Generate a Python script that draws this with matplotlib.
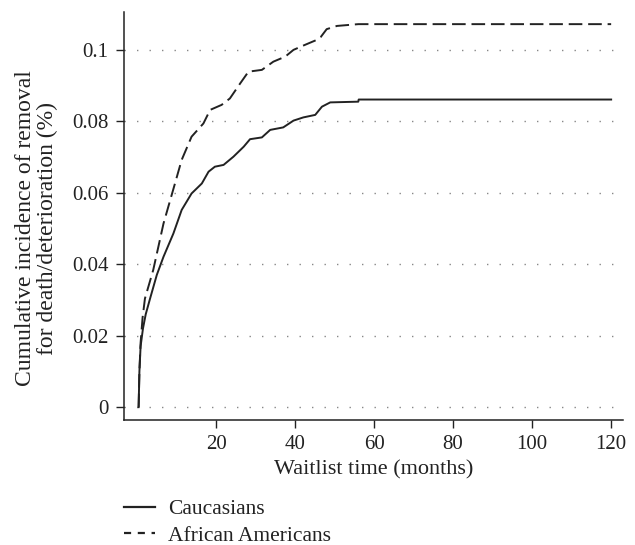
import matplotlib
matplotlib.use('agg')
import matplotlib.pyplot as plt
from matplotlib.lines import Line2D

plt.rcParams['font.family'] = ['Liberation Serif', 'DejaVu Serif']

# months on waitlist vs. cumulative incidence
cauc_months = [0.4, 0.6, 0.9, 1.5, 2.2, 3.3, 5.0, 6.7, 9.2, 11.3, 13.8, 16.4, 18.1, 19.7,
               21.9, 24.4, 27.0, 28.6, 31.6, 33.7, 37.0, 39.6, 42.1, 45.1, 46.8, 48.9,
               56.0, 56.1, 120.0]
cauc_incidence = [0.0, 0.010, 0.017, 0.022, 0.026, 0.0304, 0.037, 0.0421, 0.0486, 0.0552,
                  0.0598, 0.0626, 0.0659, 0.0673, 0.0678, 0.0701, 0.0729, 0.0750, 0.0755,
                  0.0776, 0.0783, 0.0802, 0.0811, 0.0818, 0.0841, 0.0853, 0.0855, 0.0861,
                  0.0861]

aa_months = [0.4, 0.6, 0.9, 1.4, 2.0, 4.1, 6.7, 9.6, 11.3, 13.8, 16.8, 18.5, 21.4, 23.5,
             26.1, 28.2, 31.6, 34.5, 37.5, 39.6, 42.5, 45.5, 46.5, 48.0, 50.6, 56.0, 120.0]
aa_incidence = [0.0, 0.010, 0.018, 0.025, 0.0304, 0.0384, 0.0514, 0.0626, 0.0692, 0.0757,
                0.0794, 0.0832, 0.0846, 0.0864, 0.0906, 0.0939, 0.0944, 0.0967, 0.0981,
                0.1000, 0.1014, 0.1028, 0.1036, 0.1058, 0.1067, 0.1072, 0.1072]

x_ticks = [20, 40, 60, 80, 100, 120]
y_ticks = [0, 0.02, 0.04, 0.06, 0.08, 0.1]
y_tick_labels = ['0', '0.02', '0.04', '0.06', '0.08', '0.1']

fig = plt.figure(figsize=(6.35, 5.45), dpi=100)
ax = fig.add_axes([124 / 635, 1 - 420 / 545, 499 / 635, 408 / 545])

for y in y_ticks:
    ax.axhline(y, color='#888888', lw=1.0, ls=(0, (1, 8)), zorder=0)

ax.plot(cauc_months, cauc_incidence, color='#222222', lw=1.4)
ax.plot(aa_months, aa_incidence, color='#222222', lw=1.4, dashes=(7, 3))

ax.set_xlim(-3.3, 123)
ax.set_ylim(-0.0036, 0.1106)
ax.set_xticks(x_ticks)
ax.set_yticks(y_ticks)
ax.set_yticklabels(y_tick_labels)
ax.tick_params(direction='out', length=6, width=1, labelsize=15, colors='#222222', pad=5)
ax.spines['top'].set_visible(False)
ax.spines['right'].set_visible(False)
for s in ['left', 'bottom']:
    ax.spines[s].set_linewidth(1.1)
    ax.spines[s].set_color('#222222')

ax.set_xlabel('Waitlist time (months)', fontsize=16, color='#222222', labelpad=4)
ax.set_ylabel('Cumulative incidence of removal\nfor death/deterioration (%)',
              fontsize=17, color='#222222', linespacing=1.05)
ax.yaxis.set_label_coords(-0.133, 0.47)

# legend proxies with the short dashes seen in the key
handles = [Line2D([], [], color='#222222', lw=1.6),
           Line2D([], [], color='#222222', lw=1.6, dashes=(3.2, 3))]
fig.legend(handles, ['Caucasians', 'African Americans'], loc='upper left',
           bbox_to_anchor=(122 / 635, 1 - 497 / 545), frameon=False, fontsize=15.5,
           handlelength=1.45, handletextpad=0.6, labelspacing=0.3, borderaxespad=0,
           borderpad=0.1, labelcolor='#222222')

fig.savefig('out.png', dpi=100)
